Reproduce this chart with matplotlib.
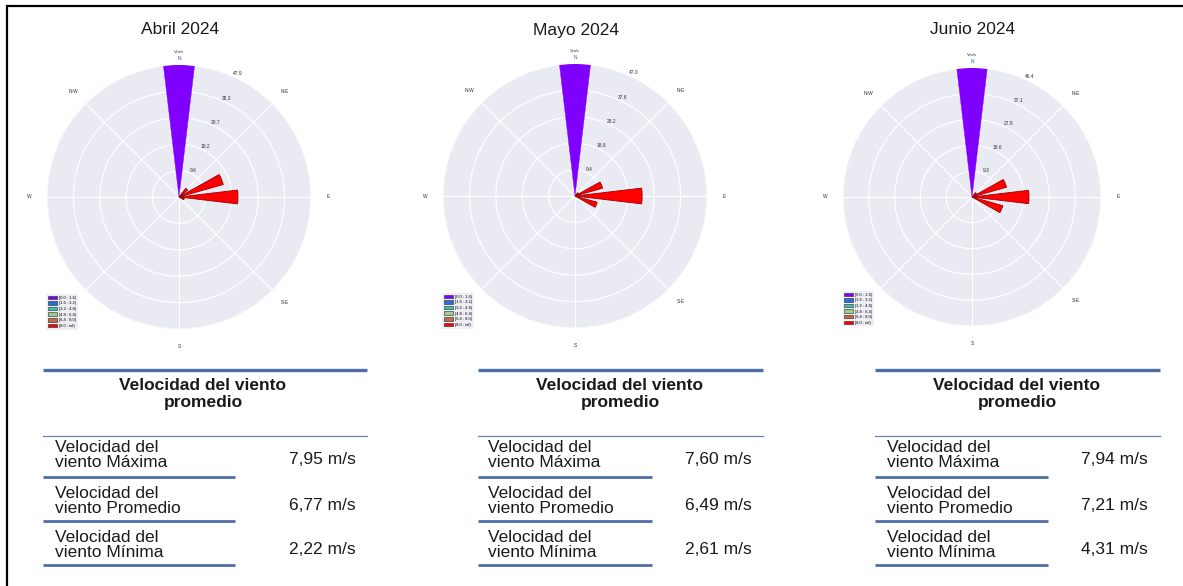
import numpy as np
import matplotlib.pyplot as plt
from matplotlib.patches import Patch

plt.rcParams['font.family'] = ['Liberation Sans', 'DejaVu Sans']

# ---------------- datos ----------------
meses = ["Abril 2024", "Mayo 2024", "Junio 2024"]

# frecuencia (%) hacia el norte (clase baja) y sectores del este (clase alta)
frec_norte = [47.9, 47.0, 46.4]
dir_este = [45.0, 67.5, 90.0, 112.5]
frec_este_abril = [4.0, 16.7, 21.4, 2.0]
frec_este_mayo = [1.5, 10.2, 23.9, 8.2]
frec_este_junio = [2.0, 12.9, 20.5, 11.5]
frec_este = [frec_este_abril, frec_este_mayo, frec_este_junio]

clases = ["[0.0 : 1.6)", "[1.6 : 3.2)", "[3.2 : 4.8)",
          "[4.8 : 6.4)", "[6.4 : 8.0)", "[8.0 : inf)"]

filas = ["Velocidad del\nviento Máxima", "Velocidad del\nviento Promedio",
         "Velocidad del\nviento Mínima"]
vel_abril = ["7,95 m/s", "6,77 m/s", "2,22 m/s"]
vel_mayo = ["7,60 m/s", "6,49 m/s", "2,61 m/s"]
vel_junio = ["7,94 m/s", "7,21 m/s", "4,31 m/s"]
velocidades = [vel_abril, vel_mayo, vel_junio]

# la etiqueta N se dibuja aparte, junto a la unidad; S-W queda tapada por la leyenda
direcciones = ["", "N-E", "E", "S-E", "S", "", "W", "N-W"]

# ---------------- estilo ----------------
colores_clase = ["#7f00ff", "#2c6fd6", "#3fc4b0", "#9ccf8c", "#c06a4a", "#ff0000"]
W, H = 1183, 586

fig = plt.figure(figsize=(W / 100, H / 100), dpi=100)

# capa de fondo en pixeles para marco, titulos y tablas
fondo = fig.add_axes([0, 0, 1, 1])
fondo.set_xlim(0, W)
fondo.set_ylim(H, 0)
fondo.axis('off')

fondo.plot([7, 7, W], [H, 6, 6], color='black', lw=1.6, solid_joinstyle='miter')

# posiciones de cada rosa (centro x, centro y, radio) en pixeles
rosas = [(179, 197, 132), (575, 196, 132), (972, 197, 129)]
tablas = [(43, 367, 55, 356, 235, 203),
          (478, 763, 488, 752, 652, 620),
          (875, 1160, 887, 1148, 1048, 1017)]

for i in range(3):
    cx, cy, r = rosas[i]
    fondo.text(cx + 1, 30, meses[i], ha='center', va='center', fontsize=12.5, color='#1a1a1a')

    ax = fig.add_axes([(cx - r) / W, (H - cy - r) / H, 2 * r / W, 2 * r / H], projection='polar')
    ax.set_theta_zero_location('N')
    ax.set_theta_direction(-1)
    ax.set_facecolor('#eaeaf2')
    ax.spines['polar'].set_visible(False)
    ax.grid(color='white', lw=0.8)

    ax.bar(0, frec_norte[i], width=np.radians(13.5), color=colores_clase[0],
           edgecolor=colores_clase[0], lw=0.3, zorder=3)
    ax.bar(np.radians(dir_este), frec_este[i], width=np.radians(13.5),
           color=colores_clase[5], edgecolor='#9a0000', lw=0.6, zorder=3)

    ax.set_ylim(0, frec_norte[i])
    ticks_r = np.linspace(0, frec_norte[i], 6)[1:]
    ax.set_yticks(ticks_r)
    ax.set_yticklabels(["%.1f" % t for t in ticks_r], fontsize=3.5, color='#333333')
    ax.set_rlabel_position(24)
    ax.set_xticks(np.radians(np.arange(0, 360, 45)))
    ax.set_xticklabels(direcciones, fontsize=3.5, color='#333333')
    ax.tick_params(axis='x', pad=2)
    ax.annotate("N", xy=(0, frec_norte[i]), xytext=(0, 5), textcoords='offset points',
                ha='center', va='center', fontsize=3.5, color='#3355aa', annotation_clip=False)
    ax.annotate("V,m/s", xy=(0, frec_norte[i]), xytext=(0, 10), textcoords='offset points',
                ha='center', va='center', fontsize=3, color='#333333', annotation_clip=False)

    handles = [Patch(facecolor=c, edgecolor='#222222', lw=0.4) for c in colores_clase]
    leg = ax.legend(handles, clases, loc='lower left', bbox_to_anchor=(-0.01, -0.01),
                    fontsize=3, frameon=True, handlelength=2.2, handleheight=0.9,
                    labelspacing=0.35, borderpad=0.4, handletextpad=0.5)
    leg.get_frame().set_facecolor('#eaeaf2')
    leg.get_frame().set_edgecolor('none')

    # tabla de velocidades
    x0, x1, xl, xv, xu, xh = tablas[i]
    azul = '#4f6ea8'
    fondo.plot([x0, x1], [370, 370], color=azul, lw=2.4, solid_capstyle='butt')
    fondo.text(xh, 394, "Velocidad del viento\npromedio", ha='center', va='center',
               fontsize=12.5, fontweight='bold', color='#1a1a1a', linespacing=1.15)
    fondo.plot([x0, x1], [436, 436], color='#6a84b0', lw=0.9)
    filas_y = [455, 501, 545]
    lineas_y = [477, 521, 565]
    for j in range(3):
        fondo.text(xl, filas_y[j], filas[j], ha='left', va='center', fontsize=12.5,
                   color='#1a1a1a', linespacing=0.95)
        fondo.text(xv, filas_y[j] + 4, velocidades[i][j], ha='right', va='center',
                   fontsize=12.5, color='#1a1a1a')
        fondo.plot([x0, xu], [lineas_y[j], lineas_y[j]], color=azul, lw=2.0, solid_capstyle='butt')

fig.savefig("out.png", dpi=100)
